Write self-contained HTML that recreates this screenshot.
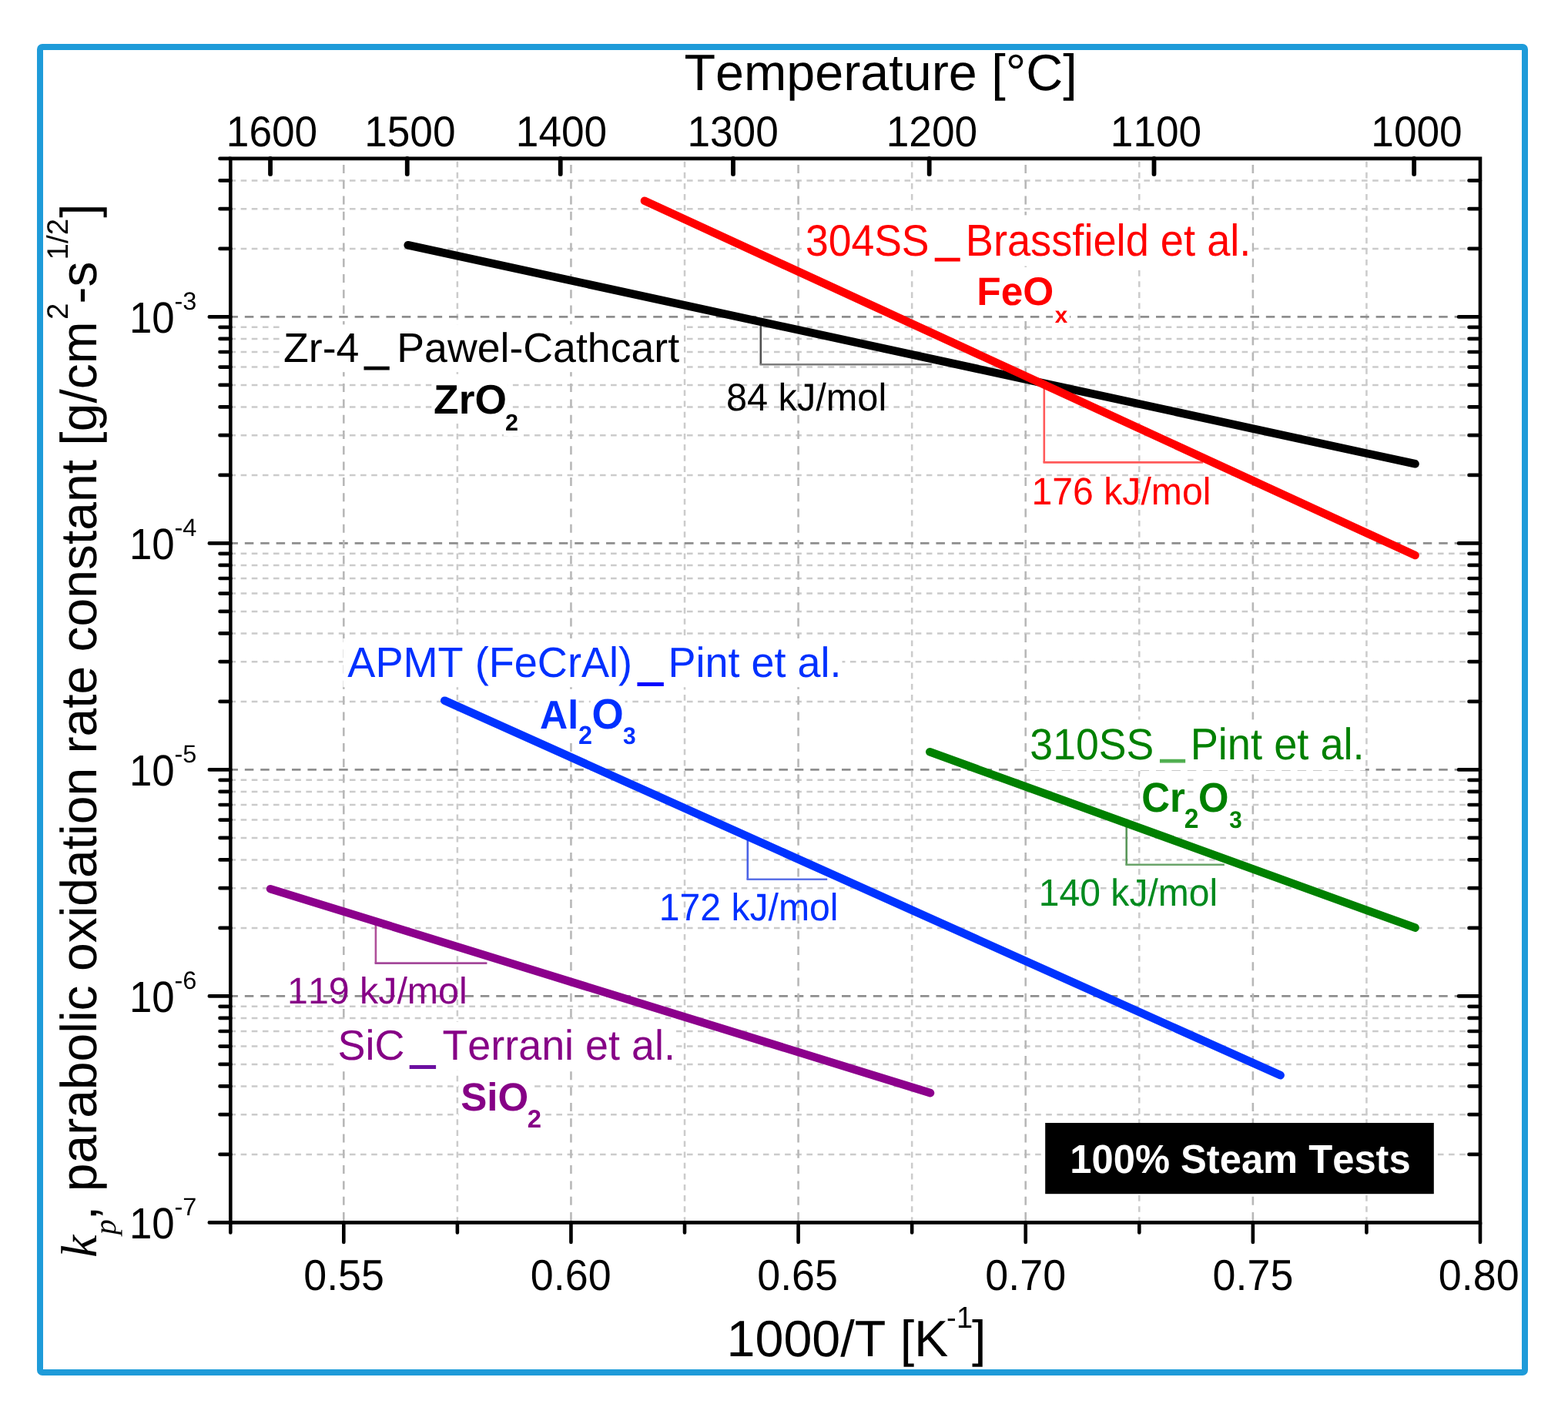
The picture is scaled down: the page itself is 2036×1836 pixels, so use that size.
<!DOCTYPE html>
<html><head><meta charset="utf-8"><title>Parabolic oxidation rate constants</title>
<style>html,body{margin:0;padding:0;background:#fff;}body{width:2036px;height:1836px;overflow:hidden;}svg{display:block;}text{font-kerning:none;font-feature-settings:'kern' 0;text-rendering:geometricPrecision;}</style>
</head><body>
<svg width="2036" height="1836" viewBox="0 0 2036 1836">
<rect width="2036" height="1836" fill="#fff"/>
<path d="M298.73 1498.9H1922M298.73 1447.13H1922M298.73 1410.39H1922M298.73 1381.9H1922M298.73 1358.62H1922M298.73 1338.94H1922M298.73 1321.89H1922M298.73 1306.85H1922M298.73 1204.9H1922M298.73 1153.13H1922M298.73 1116.39H1922M298.73 1087.9H1922M298.73 1064.62H1922M298.73 1044.94H1922M298.73 1027.89H1922M298.73 1012.85H1922M298.73 910.9H1922M298.73 859.13H1922M298.73 822.39H1922M298.73 793.9H1922M298.73 770.62H1922M298.73 750.94H1922M298.73 733.89H1922M298.73 718.85H1922M298.73 616.9H1922M298.73 565.13H1922M298.73 528.39H1922M298.73 499.9H1922M298.73 476.62H1922M298.73 456.94H1922M298.73 439.89H1922M298.73 424.85H1922M298.73 322.9H1922M298.73 271.13H1922M298.73 234.39H1922" stroke="#cbcbcb" stroke-width="2.5" stroke-dasharray="7.6 6.53" stroke-dashoffset="0.23" fill="none"/>
<path d="M593.87 205.9V1587.4M889.01 205.9V1587.4M1184.15 205.9V1587.4M1479.29 205.9V1587.4M1774.43 205.9V1587.4" stroke="#cbcbcb" stroke-width="2.5" stroke-dasharray="7.6 6.53" stroke-dashoffset="10.3" fill="none"/>
<path d="M298.73 411.4H1922M298.73 705.4H1922M298.73 999.4H1922M298.73 1293.4H1922" stroke="#8e8e8e" stroke-width="2.6" stroke-dasharray="11.5 8.9" stroke-dashoffset="1.3" fill="none"/>
<path d="M446.3 205.9V1587.4M741.44 205.9V1587.4M1036.58 205.9V1587.4M1331.72 205.9V1587.4M1626.86 205.9V1587.4" stroke="#b8b8b8" stroke-width="2.6" stroke-dasharray="11 9.3" stroke-dashoffset="12.3" fill="none"/>
<rect x="363.8" y="421.43" width="524" height="61.72" fill="#fff"/>
<text x="368.1" y="470" style="font-family:'Liberation Sans',Arial,sans-serif;font-size:53.67px" fill="#000">Zr-4</text>
<text x="474.03" y="469.09" style="font-family:'Liberation Sans',Arial,sans-serif;font-size:54.76px" fill="#000" stroke="#000" stroke-width="1.4">_</text>
<text x="515.3" y="470" style="font-family:'Liberation Sans',Arial,sans-serif;font-size:53.67px" fill="#000">Pawel-Cathcart</text>
<rect x="560.7" y="488.73" width="99" height="61.34" fill="#fff"/>
<rect x="654" y="531.37" width="20.7" height="35.11" fill="#fff"/>
<text x="563.11" y="537" style="font-family:'Liberation Sans',Arial,sans-serif;font-weight:bold;font-size:53.34px" fill="#000">ZrO</text>
<text x="655.94" y="559" style="font-family:'Liberation Sans',Arial,sans-serif;font-weight:bold;font-size:30.53px" fill="#000">2</text>
<rect x="1042" y="279.35" width="583.5" height="66.27" fill="#fff"/>
<text transform="translate(1045.96,331.5) scale(1,1.07)" style="font-family:'Liberation Sans',Arial,sans-serif;font-size:53.49px" fill="#ff0000">304SS</text>
<text x="1215.22" y="328.46" style="font-family:'Liberation Sans',Arial,sans-serif;font-size:54.25px" fill="#ff0000" stroke="#ff0000" stroke-width="1.4">_</text>
<text transform="translate(1253.75,331.5) scale(1,1.07)" style="font-family:'Liberation Sans',Arial,sans-serif;font-size:54.22px" fill="#ff0000">Brassfield et al.</text>
<rect x="1267.8" y="349.67" width="102.4" height="59.13" fill="#fff"/>
<rect x="1367" y="391.78" width="22" height="33.95" fill="#fff"/>
<text x="1268.36" y="396.2" style="font-family:'Liberation Sans',Arial,sans-serif;font-weight:bold;font-size:51.42px" fill="#ff0000">FeO</text>
<text x="1369.8" y="418.5" style="font-family:'Liberation Sans',Arial,sans-serif;font-weight:bold;font-size:29.52px" fill="#ff0000">x</text>
<rect x="445.4" y="828.92" width="648.1" height="63.38" fill="#fff"/>
<text transform="translate(451.29,878.8) scale(1,1.02)" style="font-family:'Liberation Sans',Arial,sans-serif;font-size:54.13px" fill="#0030ff">APMT (FeCrAl)</text>
<text x="829.06" y="878.54" style="font-family:'Liberation Sans',Arial,sans-serif;font-size:56.65px" fill="#0000ff" stroke="#0000ff" stroke-width="1.4">_</text>
<text transform="translate(867.58,878.8) scale(1,1.02)" style="font-family:'Liberation Sans',Arial,sans-serif;font-size:53.93px" fill="#0030ff">Pint et al.</text>
<rect x="698.3" y="898.85" width="53.3" height="59.91" fill="#fff"/>
<rect x="766.7" y="896.15" width="44.8" height="63.34" fill="#fff"/>
<rect x="749.1" y="935.8" width="21.6" height="38.75" fill="#fff"/>
<rect x="806.7" y="938.09" width="20.9" height="35.85" fill="#fff"/>
<text transform="translate(701.05,946) scale(1,1.04)" style="font-family:'Liberation Sans',Arial,sans-serif;font-weight:bold;font-size:50.09px" fill="#0030ff">Al</text>
<text transform="translate(750.98,966.3) scale(1,1.04)" style="font-family:'Liberation Sans',Arial,sans-serif;font-weight:bold;font-size:32.4px" fill="#0030ff">2</text>
<text transform="translate(768.53,946) scale(1,1.04)" style="font-family:'Liberation Sans',Arial,sans-serif;font-weight:bold;font-size:52.96px" fill="#0030ff">O</text>
<text transform="translate(809.01,966.3) scale(1,1.04)" style="font-family:'Liberation Sans',Arial,sans-serif;font-weight:bold;font-size:29.98px" fill="#0030ff">3</text>
<rect x="1333.4" y="934.35" width="439.4" height="66.01" fill="#fff"/>
<text transform="translate(1337.36,986.3) scale(1,1.065)" style="font-family:'Liberation Sans',Arial,sans-serif;font-size:53.56px" fill="#008000">310SS</text>
<text x="1507.43" y="978.62" style="font-family:'Liberation Sans',Arial,sans-serif;font-size:54.59px" fill="#4fae4f" stroke="#4fae4f" stroke-width="1.4">_</text>
<text transform="translate(1545.65,986.3) scale(1,1.065)" style="font-family:'Liberation Sans',Arial,sans-serif;font-size:54.23px" fill="#008000">Pint et al.</text>
<rect x="1480.3" y="1004.8" width="61.9" height="62.27" fill="#fff"/>
<rect x="1554" y="1005.06" width="43.3" height="61.93" fill="#fff"/>
<rect x="1536" y="1042.32" width="22.2" height="41.02" fill="#fff"/>
<rect x="1593.9" y="1046.23" width="20.7" height="36.05" fill="#fff"/>
<text transform="translate(1482.2,1053.8) scale(1,1.06)" style="font-family:'Liberation Sans',Arial,sans-serif;font-weight:bold;font-size:51.08px" fill="#008000">Cr</text>
<text transform="translate(1537.83,1074.6) scale(1,1.06)" style="font-family:'Liberation Sans',Arial,sans-serif;font-weight:bold;font-size:33.65px" fill="#008000">2</text>
<text transform="translate(1555.92,1053.8) scale(1,1.06)" style="font-family:'Liberation Sans',Arial,sans-serif;font-weight:bold;font-size:50.8px" fill="#008000">O</text>
<text transform="translate(1596.22,1074.6) scale(1,1.06)" style="font-family:'Liberation Sans',Arial,sans-serif;font-weight:bold;font-size:29.57px" fill="#008000">3</text>
<rect x="434.9" y="1326.63" width="443.1" height="63.24" fill="#fff"/>
<text transform="translate(438.45,1376.4) scale(1,1.02)" style="font-family:'Liberation Sans',Arial,sans-serif;font-size:53.93px" fill="#860086">SiC</text>
<text x="533.26" y="1375.54" style="font-family:'Liberation Sans',Arial,sans-serif;font-size:56.65px" fill="#6c10a0" stroke="#6c10a0" stroke-width="1.4">_</text>
<text transform="translate(574.39,1376.4) scale(1,1.02)" style="font-family:'Liberation Sans',Arial,sans-serif;font-size:53.9px" fill="#860086">Terrani et al.</text>
<rect x="595.7" y="1395.46" width="92.4" height="58.76" fill="#fff"/>
<rect x="683" y="1434.1" width="21.8" height="37.74" fill="#fff"/>
<text x="598.23" y="1441.7" style="font-family:'Liberation Sans',Arial,sans-serif;font-weight:bold;font-size:51.09px" fill="#860086">SiO</text>
<text x="684.86" y="1463.8" style="font-family:'Liberation Sans',Arial,sans-serif;font-weight:bold;font-size:32.82px" fill="#860086">2</text>
<path d="M987.8 417V473.3" stroke="#505050" stroke-width="2.6" fill="none"/>
<path d="M986.5 473.3H1209.8" stroke="#7c7c7c" stroke-width="2.6" fill="none"/>
<path d="M1355.8 500V600.4" stroke="#ff5a5a" stroke-width="2.6" fill="none"/>
<path d="M1354.5 600.4H1562" stroke="#ff5a5a" stroke-width="2.6" fill="none"/>
<path d="M970.8 1086V1141.8" stroke="#4a62e6" stroke-width="2.6" fill="none"/>
<path d="M969.5 1141.8H1074.2" stroke="#5a70e6" stroke-width="2.6" fill="none"/>
<path d="M1462.7 1072V1122.7" stroke="#5a985a" stroke-width="2.6" fill="none"/>
<path d="M1461.4 1122.7H1589.9" stroke="#6aa46a" stroke-width="2.6" fill="none"/>
<path d="M487.9 1194V1250.6" stroke="#b0509a" stroke-width="2.6" fill="none"/>
<path d="M486.6 1250.6H632.4" stroke="#a4489a" stroke-width="2.6" fill="none"/>
<line x1="529.7" y1="318.3" x2="1837.5" y2="602.3" stroke="#000" stroke-width="10.6" stroke-linecap="round"/>
<line x1="837" y1="260.8" x2="1837.5" y2="721" stroke="#ff0000" stroke-width="10.6" stroke-linecap="round"/>
<line x1="577.3" y1="909.7" x2="1662.6" y2="1396.2" stroke="#0033ff" stroke-width="10.6" stroke-linecap="round"/>
<line x1="1207.3" y1="976.3" x2="1837.5" y2="1204.6" stroke="#008000" stroke-width="10.6" stroke-linecap="round"/>
<line x1="351.1" y1="1154.2" x2="1208" y2="1419.1" stroke="#8c008c" stroke-width="10.6" stroke-linecap="round"/>
<text transform="translate(942.98,532.6) scale(1,1.03)" style="font-family:'Liberation Sans',Arial,sans-serif;font-size:48.67px" fill="#000">84 kJ/mol</text>
<text transform="translate(1339.53,655.2) scale(1,1.03)" style="font-family:'Liberation Sans',Arial,sans-serif;font-size:48.18px" fill="#ff0000">176 kJ/mol</text>
<text transform="translate(855.63,1194.6) scale(1,1.03)" style="font-family:'Liberation Sans',Arial,sans-serif;font-size:48.18px" fill="#0030ff">172 kJ/mol</text>
<text transform="translate(1348.84,1175.5) scale(1,1.03)" style="font-family:'Liberation Sans',Arial,sans-serif;font-size:48.06px" fill="#008a1e">140 kJ/mol</text>
<text x="373.02" y="1302.6" style="font-family:'Liberation Sans',Arial,sans-serif;font-size:48.33px" fill="#860086">119 kJ/mol</text>
<path d="M299.3 205.9H1922V1587.4H299.3Z" stroke="#000" stroke-width="4.6" fill="none" stroke-linejoin="miter"/>
<path d="M299.3 1587.4H271.8M299.3 1293.4H271.8M299.3 999.4H271.8M299.3 705.4H271.8M299.3 411.4H271.8M1922 1293.4H1894M1922 999.4H1894M1922 705.4H1894M1922 411.4H1894M446.3 1587.4V1612.9M741.44 1587.4V1612.9M1036.58 1587.4V1612.9M1331.72 1587.4V1612.9M1626.86 1587.4V1612.9M1922 1587.4V1612.9" stroke="#000" stroke-width="4.6" stroke-linecap="round" fill="none"/>
<path d="M299.3 1498.9H285.5M299.3 1447.13H285.5M299.3 1410.39H285.5M299.3 1381.9H285.5M299.3 1358.62H285.5M299.3 1338.94H285.5M299.3 1321.89H285.5M299.3 1306.85H285.5M299.3 1204.9H285.5M299.3 1153.13H285.5M299.3 1116.39H285.5M299.3 1087.9H285.5M299.3 1064.62H285.5M299.3 1044.94H285.5M299.3 1027.89H285.5M299.3 1012.85H285.5M299.3 910.9H285.5M299.3 859.13H285.5M299.3 822.39H285.5M299.3 793.9H285.5M299.3 770.62H285.5M299.3 750.94H285.5M299.3 733.89H285.5M299.3 718.85H285.5M299.3 616.9H285.5M299.3 565.13H285.5M299.3 528.39H285.5M299.3 499.9H285.5M299.3 476.62H285.5M299.3 456.94H285.5M299.3 439.89H285.5M299.3 424.85H285.5M299.3 322.9H285.5M299.3 271.13H285.5M299.3 234.39H285.5M299.3 205.9H285.5M1922 1498.9H1907.5M1922 1447.13H1907.5M1922 1410.39H1907.5M1922 1381.9H1907.5M1922 1358.62H1907.5M1922 1338.94H1907.5M1922 1321.89H1907.5M1922 1306.85H1907.5M1922 1204.9H1907.5M1922 1153.13H1907.5M1922 1116.39H1907.5M1922 1087.9H1907.5M1922 1064.62H1907.5M1922 1044.94H1907.5M1922 1027.89H1907.5M1922 1012.85H1907.5M1922 910.9H1907.5M1922 859.13H1907.5M1922 822.39H1907.5M1922 793.9H1907.5M1922 770.62H1907.5M1922 750.94H1907.5M1922 733.89H1907.5M1922 718.85H1907.5M1922 616.9H1907.5M1922 565.13H1907.5M1922 528.39H1907.5M1922 499.9H1907.5M1922 476.62H1907.5M1922 456.94H1907.5M1922 439.89H1907.5M1922 424.85H1907.5M1922 322.9H1907.5M1922 271.13H1907.5M1922 234.39H1907.5M593.87 1587.4V1600.4M889.01 1587.4V1600.4M1184.15 1587.4V1600.4M1479.29 1587.4V1600.4M1774.43 1587.4V1600.4M299.3 1587.4V1600.4" stroke="#000" stroke-width="4.6" stroke-linecap="round" fill="none"/>
<path d="M351.03 205.9V225.9M528.75 205.9V225.9M727.72 205.9V225.9M951.98 205.9V225.9M1206.68 205.9V225.9M1498.49 205.9V225.9M1836.13 205.9V225.9" stroke="#000" stroke-width="5.8" stroke-linecap="round" fill="none"/>
<text transform="translate(293.85,189.6) scale(1,1.05)" style="font-family:'Liberation Sans',Arial,sans-serif;font-size:53.2px" fill="#000">1600</text>
<text transform="translate(473.15,189.6) scale(1,1.05)" style="font-family:'Liberation Sans',Arial,sans-serif;font-size:53.2px" fill="#000">1500</text>
<text transform="translate(669.85,189.6) scale(1,1.05)" style="font-family:'Liberation Sans',Arial,sans-serif;font-size:53.2px" fill="#000">1400</text>
<text transform="translate(892.45,189.6) scale(1,1.05)" style="font-family:'Liberation Sans',Arial,sans-serif;font-size:53.2px" fill="#000">1300</text>
<text transform="translate(1150.75,189.6) scale(1,1.05)" style="font-family:'Liberation Sans',Arial,sans-serif;font-size:53.2px" fill="#000">1200</text>
<text transform="translate(1441.85,189.6) scale(1,1.05)" style="font-family:'Liberation Sans',Arial,sans-serif;font-size:53.2px" fill="#000">1100</text>
<text transform="translate(1780.35,189.6) scale(1,1.05)" style="font-family:'Liberation Sans',Arial,sans-serif;font-size:53.2px" fill="#000">1000</text>
<text transform="translate(394.22,1674.6) scale(1,1.045)" style="font-family:'Liberation Sans',Arial,sans-serif;font-size:53.8px" fill="#000">0.55</text>
<text transform="translate(688.84,1674.6) scale(1,1.045)" style="font-family:'Liberation Sans',Arial,sans-serif;font-size:53.8px" fill="#000">0.60</text>
<text transform="translate(983.22,1674.6) scale(1,1.045)" style="font-family:'Liberation Sans',Arial,sans-serif;font-size:53.8px" fill="#000">0.65</text>
<text transform="translate(1279.34,1674.6) scale(1,1.045)" style="font-family:'Liberation Sans',Arial,sans-serif;font-size:53.8px" fill="#000">0.70</text>
<text transform="translate(1574.62,1674.6) scale(1,1.045)" style="font-family:'Liberation Sans',Arial,sans-serif;font-size:53.8px" fill="#000">0.75</text>
<text transform="translate(1867.84,1674.6) scale(1,1.045)" style="font-family:'Liberation Sans',Arial,sans-serif;font-size:53.8px" fill="#000">0.80</text>
<text transform="translate(167.98,1608) scale(1,1.075)" style="font-family:'Liberation Sans',Arial,sans-serif;font-size:52.8px" fill="#000">10</text>
<text x="226.56" y="1577.8" style="font-family:'Liberation Sans',Arial,sans-serif;font-size:32.5px" fill="#000">-7</text>
<text transform="translate(167.98,1314) scale(1,1.075)" style="font-family:'Liberation Sans',Arial,sans-serif;font-size:52.8px" fill="#000">10</text>
<text x="226.56" y="1283.8" style="font-family:'Liberation Sans',Arial,sans-serif;font-size:32.5px" fill="#000">-6</text>
<text transform="translate(167.98,1020) scale(1,1.075)" style="font-family:'Liberation Sans',Arial,sans-serif;font-size:52.8px" fill="#000">10</text>
<text x="226.56" y="989.8" style="font-family:'Liberation Sans',Arial,sans-serif;font-size:32.5px" fill="#000">-5</text>
<text transform="translate(167.98,726) scale(1,1.075)" style="font-family:'Liberation Sans',Arial,sans-serif;font-size:52.8px" fill="#000">10</text>
<text x="226.56" y="695.8" style="font-family:'Liberation Sans',Arial,sans-serif;font-size:32.5px" fill="#000">-4</text>
<text transform="translate(167.98,432) scale(1,1.075)" style="font-family:'Liberation Sans',Arial,sans-serif;font-size:52.8px" fill="#000">10</text>
<text x="226.56" y="401.8" style="font-family:'Liberation Sans',Arial,sans-serif;font-size:32.5px" fill="#000">-3</text>
<text x="888.51" y="117.4" style="font-family:'Liberation Sans',Arial,sans-serif;font-size:66.43px" fill="#000">Temperature [°C]</text>
<text x="943.54" y="1760.8" style="font-family:'Liberation Sans',Arial,sans-serif;font-size:66.4px" fill="#000">1000/T [K</text>
<text transform="translate(1228.91,1724) scale(1,1.03)" style="font-family:'Liberation Sans',Arial,sans-serif;font-size:38px" fill="#000">-</text>
<text transform="translate(1241.91,1724) scale(1,1.03)" style="font-family:'Liberation Sans',Arial,sans-serif;font-size:38px" fill="#000">1</text>
<text x="1262.08" y="1760.8" style="font-family:'Liberation Sans',Arial,sans-serif;font-size:66.4px" fill="#000">]</text>
<text transform="translate(125,1640) rotate(-90) translate(6.9,0) scale(1,1.0)" style="font-family:'Liberation Serif','Times New Roman',serif;font-style:italic;font-size:66px" fill="#000">k</text>
<text transform="translate(125,1640) rotate(-90) translate(36.64,25) scale(1,1.0)" style="font-family:'Liberation Serif','Times New Roman',serif;font-style:italic;font-size:40px" fill="#000">p</text>
<text transform="translate(125,1640) rotate(-90) translate(55.67,0) scale(1,1.0)" style="font-family:'Liberation Sans',Arial,sans-serif;font-size:66px" fill="#000">,</text>
<text transform="translate(125,1640) rotate(-90) translate(92.75,0) scale(1,1.0)" style="font-family:'Liberation Sans',Arial,sans-serif;font-size:66px" fill="#000">parabolic oxidation rate constant [g/cm</text>
<text transform="translate(125,1640) rotate(-90) translate(1225.06,-37) scale(1,1.0)" style="font-family:'Liberation Sans',Arial,sans-serif;font-size:38.5px" fill="#000">2</text>
<text transform="translate(125,1640) rotate(-90) translate(1245.57,0) scale(1,1.0)" style="font-family:'Liberation Sans',Arial,sans-serif;font-size:66px" fill="#000">-s</text>
<text transform="translate(125,1640) rotate(-90) translate(1302.57,-37) scale(1,1.0)" style="font-family:'Liberation Sans',Arial,sans-serif;font-size:38.5px" fill="#000">1/2</text>
<text transform="translate(125,1640) rotate(-90) translate(1357.28,0) scale(1,1.0)" style="font-family:'Liberation Sans',Arial,sans-serif;font-size:66px" fill="#000">]</text>
<rect x="1357.2" y="1458" width="504.6" height="92.2" fill="#000"/>
<text transform="translate(1389.31,1523.4) scale(1,1.03)" style="font-family:'Liberation Sans',Arial,sans-serif;font-weight:bold;font-size:50.7px" fill="#fff">100% Steam Tests</text>
<rect x="52" y="61" width="1928" height="1721" rx="3" ry="3" fill="none" stroke="#1e9bd9" stroke-width="8"/>
</svg>
</body></html>
